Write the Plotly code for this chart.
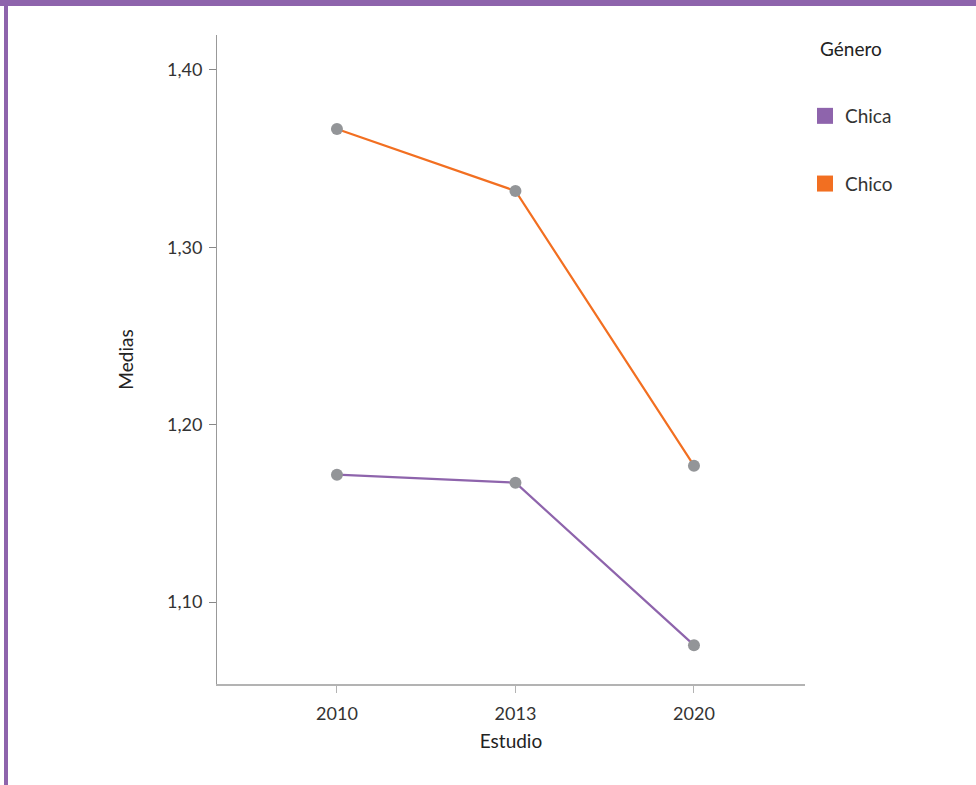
import plotly.graph_objects as go

estudios = ["2010", "2013", "2020"]
chica = [1.1718, 1.1673, 1.0757]
chico = [1.3667, 1.3318, 1.1769]
series_names = ["Chica", "Chico"]
legend_title = "Género"
colors = ["#8E64AC", "#F26F21"]
marker_color = "#939598"

fig = go.Figure()
for name, vals, col in zip(series_names, [chica, chico], colors):
    fig.add_trace(go.Scatter(
        x=estudios, y=vals, mode="lines+markers", name=name,
        line=dict(color=col, width=2.2),
        marker=dict(color=marker_color, size=12),
        showlegend=False, hoverinfo="x+y+name"))
for i, (name, col) in enumerate(zip(series_names, colors)):
    fig.add_trace(go.Scatter(
        x=[None], y=[None], mode="markers", name=name,
        marker=dict(color=col, size=16, symbol="square"),
        legendgroup=name, showlegend=True))

font_family = "Lato, 'Open Sans', sans-serif"
W, H = 976, 785
L, T, PW, PH = 217, 35, 588, 649
fig.update_layout(
    width=W, height=H,
    margin=dict(l=L, r=W - L - PW, t=T, b=H - T - PH, pad=0),
    paper_bgcolor="white", plot_bgcolor="white",
    separators=",.",
    font=dict(family=font_family, size=18, color="#222222"),
    xaxis=dict(
        type="category", range=[-0.672, 2.622],
        showline=True, linecolor="#b3b3b3", linewidth=2,
        ticks="outside", ticklen=7, tickcolor="#b3b3b3", tickwidth=1,
        showgrid=False, zeroline=False,
        title=dict(text="Estudio", font=dict(size=19), standoff=12),
        tickfont=dict(size=18, color="#333333"),
        ticklabelstandoff=5,
    ),
    yaxis=dict(
        range=[1.0538, 1.4197], dtick=0.1, tick0=1.0, tickformat=".2f",
        showline=True, linecolor="#999999", linewidth=1,
        ticks="outside", ticklen=7, tickcolor="#888888",
        showgrid=False, zeroline=False,
        title=dict(text="Medias", font=dict(size=19), standoff=28),
        tickfont=dict(size=18, color="#333333"),
        ticklabelstandoff=3,
    ),
    legend=dict(
        x=(805 - L) / PW, xanchor="left", y=1 - (97 - T) / PH, yanchor="top",
        tracegroupgap=40, font=dict(size=19, color="#333333"),
    ),
    annotations=[
        dict(text=legend_title, xref="paper", yref="paper",
             x=(818 - L) / PW, y=1 - (48 - T) / PH, xanchor="left", yanchor="middle",
             showarrow=False, font=dict(size=19, color="#222222")),
    ],
    shapes=[
        dict(type="rect", xref="paper", yref="paper",
             x0=-L / PW, x1=(W - L) / PW, y0=1 + (T - 6) / PH, y1=1 + T / PH,
             fillcolor="#8E64AC", line=dict(width=0), layer="above"),
        dict(type="rect", xref="paper", yref="paper",
             x0=-(L - 4) / PW, x1=-(L - 8) / PW, y0=-(H - T - PH) / PH, y1=1 + T / PH,
             fillcolor="#8E64AC", line=dict(width=0), layer="above"),
    ],
)

fig.write_html("out.html", config={"displayModeBar": False},
               post_script="document.body.style.margin='0';")
